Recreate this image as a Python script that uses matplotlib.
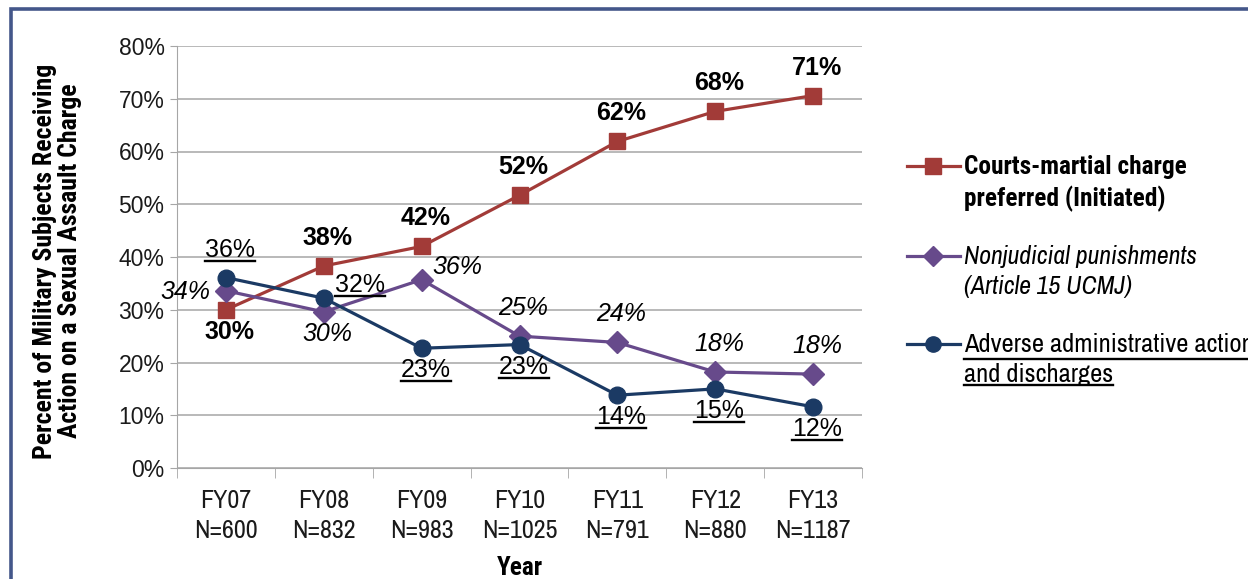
import matplotlib
matplotlib.use("Agg")
import matplotlib.pyplot as plt
from matplotlib import font_manager
from matplotlib.font_manager import FontProperties
from matplotlib.lines import Line2D
from matplotlib.patches import Rectangle
from matplotlib.transforms import IdentityTransform
from matplotlib.ticker import FixedLocator, PercentFormatter

# data
years = ["FY07", "FY08", "FY09", "FY10", "FY11", "FY12", "FY13"]
n_cases = [600, 832, 983, 1025, 791, 880, 1187]
courts_martial = [30.0, 38.3, 42.0, 51.7, 61.9, 67.6, 70.6]
nonjudicial = [33.6, 29.6, 35.7, 25.0, 23.8, 18.2, 17.8]
adverse_admin = [36.1, 32.2, 22.7, 23.4, 13.8, 15.0, 11.6]

# where each data label sits relative to its point
courts_pos = ["below", "above", "above", "above", "above", "above", "above"]
nonjud_pos = ["left", "below", "right", "above", "above", "above", "above"]
adverse_pos = ["above", "right", "below", "below", "below", "below", "below"]

# narrow Arial-like faces for titles / legend (fall back to Liberation Sans)
fonts = font_manager.fontManager.ttflist
narrow_cands = ["Liberation Sans Narrow", "Arial Narrow", "Archivo Narrow",
                "Roboto Condensed", "PT Sans Narrow", "Pragati Narrow", "Asap Condensed",
                "Barlow Condensed"]


def weight_of(f):
    w = f.weight
    return w if isinstance(w, (int, float)) else font_manager.weight_dict.get(w, 400)


def pick(style="normal", bold=False):
    for cand in narrow_cands:
        for f in fonts:
            if f.name == cand and f.style == style and (weight_of(f) >= 600) == bold:
                return cand
    return "Liberation Sans"


NARROW = pick()
NARROW_B = pick(bold=True)
NARROW_I = pick(style="italic")
REG = "Liberation Sans"

W, H = 1248, 579
fig = plt.figure(figsize=(W / 100, H / 100), dpi=100)
rend = fig.canvas.get_renderer()


def fit(s, target_px, family, weight="normal", style="normal"):
    # font size (pt) that makes string s target_px wide
    fp = FontProperties(family=family, weight=weight, style=style, size=20)
    w = rend.get_text_width_height_descent(s, fp, ismath=False)[0]
    return 20 * target_px / w


def spacing(gap_px, size, family, weight="normal", style="normal"):
    # linespacing giving gap_px between baselines
    fp = FontProperties(family=family, weight=weight, style=style, size=size)
    _, h, d = rend.get_text_width_height_descent("lp", fp, ismath=False)
    return (gap_px - d) / (h - d)


ax = fig.add_axes([177 / W, 1 - 468 / H, (862 - 177) / W, (468 - 46) / H])

red = "#A23B38"
purple = "#674A8B"
navy = "#1B3A64"

x = list(range(len(years)))
ax.plot(x, courts_martial, color=red, lw=2.3, marker="s", ms=12, zorder=4)
ax.plot(x, nonjudicial, color=purple, lw=2.3, marker="D", ms=11, zorder=4)
ax.plot(x, adverse_admin, color=navy, lw=2.3, marker="o", ms=12, zorder=5)

ax.set_xlim(-0.5, len(years) - 0.5)
ax.set_ylim(0, 80)
ax.yaxis.set_major_locator(FixedLocator(range(0, 81, 10)))
ax.yaxis.set_major_formatter(PercentFormatter(decimals=0))
ax.grid(axis="y", color="#A6A6A6", lw=1.1)
ax.set_axisbelow(True)
for s in ["top", "right"]:
    ax.spines[s].set_visible(False)
ax.spines["left"].set_color("#A6A6A6")
ax.spines["bottom"].set_color("#A6A6A6")

xt_size = fit("N=1025", 76, NARROW)
ax.set_xticks(x)
ax.set_xticklabels([f"{y}\nN={n}" for y, n in zip(years, n_cases)],
                   family=NARROW, fontsize=xt_size,
                   linespacing=spacing(30, xt_size, NARROW), color="#1a1a1a")
ax.set_xticks([i - 0.5 for i in range(len(years) + 1)], minor=True)
ax.tick_params(axis="x", which="major", length=0, pad=15)
ax.tick_params(axis="x", which="minor", length=7, color="#A6A6A6")
ax.tick_params(axis="y", length=5, color="#A6A6A6", pad=4)
for lab in ax.get_yticklabels():
    lab.set_family(REG)
    lab.set_fontsize(16.5)
    lab.set_color("#1a1a1a")

ax.set_xlabel("Year", family=NARROW_B, fontsize=fit("Year", 46, NARROW_B, "bold"),
              fontweight="bold", labelpad=10)
yl_size = fit("Percent of Military Subjects Receiving", 393, NARROW_B, "bold")
fig.text(58 / W, 1 - 261 / H,
         "Percent of Military Subjects Receiving\nAction on a Sexual Assault Charge",
         family=NARROW_B, fontsize=yl_size, fontweight="bold", rotation=90,
         ha="center", va="center", linespacing=spacing(25, yl_size, NARROW_B, "bold"))

offsets = {
    "above": ((4, 28), "center", "center"),
    "below": ((4, -22), "center", "center"),
    "left": ((-16, -1), "right", "center"),
    "right": ((11, 13), "left", "center"),
}

underlined = []


def add_labels(vals, places, style):
    for i, (v, p) in enumerate(zip(vals, places)):
        (dx, dy), ha, va = offsets[p]
        kw = dict(family=REG, fontsize=18)
        if style == "bold":
            kw["fontweight"] = "bold"
        elif style == "italic":
            kw["style"] = "italic"
        t = ax.annotate(f"{v:.0f}%", (i, v), xytext=(dx, dy), textcoords="offset pixels",
                        ha=ha, va=va, zorder=6, **kw)
        if style == "under":
            underlined.append(t)


add_labels(courts_martial, courts_pos, "bold")
add_labels(nonjudicial, nonjud_pos, "italic")
add_labels(adverse_admin, adverse_pos, "under")

# legend drawn by hand so each entry can keep its own text style
legend_items = [
    ("Courts-martial charge\npreferred (Initiated)", red, "s", 12,
     NARROW_B, "bold", "normal", "Courts-martial charge", 223),
    ("Nonjudicial punishments\n(Article 15 UCMJ)", purple, "D", 10,
     NARROW_I, "normal", "italic", "Nonjudicial punishments", 233),
    ("Adverse administrative action\nand discharges", navy, "o", 11,
     NARROW, "normal", "normal", "and discharges", 149),
]
leg_y = [166, 256, 344]
for (label, col, mk, ms, fam, wt, st, ref_line, tw), yy in zip(legend_items, leg_y):
    fig.add_artist(Line2D([907 / W, 960 / W], [1 - yy / H] * 2, transform=fig.transFigure,
                          color=col, lw=2.3))
    fig.add_artist(Line2D([933 / W], [1 - yy / H], transform=fig.transFigure,
                          color=col, marker=mk, ms=ms, lw=0))
    size = fit(ref_line, tw, fam, wt, st)
    t = fig.text(964 / W, 1 - (yy - 11) / H, label, ha="left", va="top",
                 family=fam, fontsize=size, fontweight=wt, style=st,
                 linespacing=spacing(30, size, fam, wt, st))
    if ref_line == "and discharges":
        underlined.append(t)

# dark frame around the slide graphic
fig.add_artist(Rectangle((11 / W, -0.2), 1.5, 1.2 - 9 / H, transform=fig.transFigure,
                         fill=False, ec="#44578A", lw=2.6))

fig.canvas.draw()
for t in underlined:
    bb = t.get_window_extent(rend)
    lines = t.get_text().split("\n")
    lh = bb.height / len(lines)
    for k, line in enumerate(lines):
        w = rend.get_text_width_height_descent(line, t.get_fontproperties(), ismath=False)[0]
        if t.get_ha() == "left":
            x0 = bb.x0
        elif t.get_ha() == "right":
            x0 = bb.x1 - w
        else:
            x0 = (bb.x0 + bb.x1) / 2 - w / 2
        yline = bb.y1 - (k + 1) * lh + 1
        fig.add_artist(Line2D([x0, x0 + w], [yline, yline], transform=IdentityTransform(),
                              color="black", lw=1.7, zorder=7))

fig.savefig("out.png", dpi=100, facecolor="white")
